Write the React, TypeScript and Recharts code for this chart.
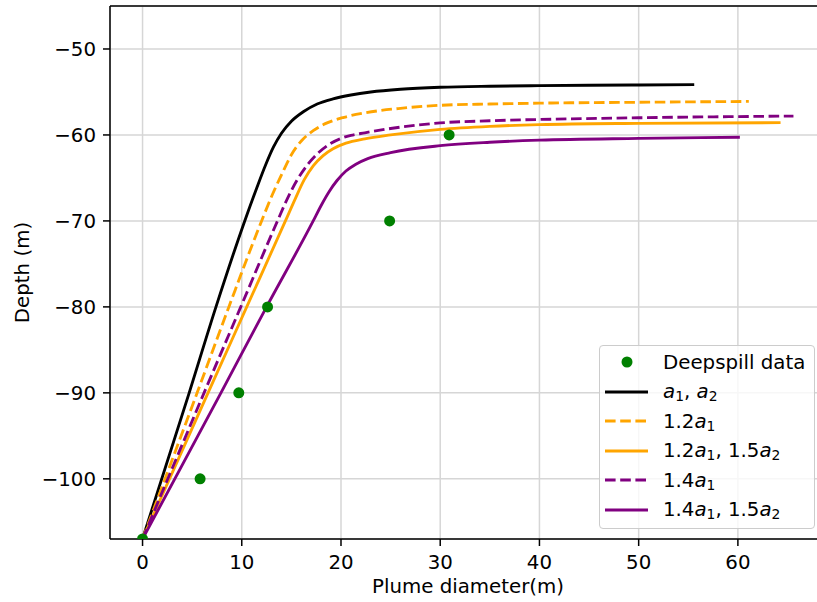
import React from "react";
import {
  ComposedChart,
  Line,
  Scatter,
  XAxis,
  YAxis,
  CartesianGrid,
  ReferenceLine,
  Legend,
  Label,
} from "recharts";

const FONT = '"DejaVu Sans", sans-serif';
const FS = 19.8;

// measured Deepspill points
const SPILL_X = [0, 5.8, 9.7, 12.6, 24.9, 30.9];
const SPILL_Y = [-107, -100, -90, -80, -70, -60];

// a1, a2
const BASE_X = [0, 4.7, 7.4, 10.3, 11.5, 12.4, 13.2, 14.0, 15.0, 16.2, 17.6, 19.2, 21, 23, 26, 30, 35, 40, 45, 50, 55.6];
const BASE_Y = [-107, -90, -80, -70, -66.2, -63.5, -61.4, -59.8, -58.4, -57.3, -56.4, -55.8, -55.35, -55.0, -54.68, -54.45, -54.33, -54.27, -54.22, -54.19, -54.15];

// 1.2 a1
const A12_X = [0, 5.5, 8.7, 12.0, 13.1, 14.1, 15.0, 16.0, 17.2, 18.6, 20.3, 22.3, 26, 30, 35, 40, 50, 61.1];
const A12_Y = [-107, -90, -80, -70, -66.9, -64.4, -62.3, -60.7, -59.5, -58.6, -57.95, -57.45, -56.9, -56.55, -56.4, -56.3, -56.2, -56.1];

// 1.2 a1, 1.5 a2
const A12B_X = [0, 6.6, 10.5, 14.4, 15.4, 16.3, 17.2, 18.2, 19.2, 20.5, 22.4, 25, 30, 35, 40, 50, 64.3];
const A12B_Y = [-107, -90, -80, -70, -67.4, -65.2, -63.6, -62.4, -61.6, -60.95, -60.45, -60.0, -59.35, -59.0, -58.8, -58.65, -58.57];

// 1.4 a1
const A14_X = [0, 6.2, 9.9, 13.6, 14.6, 15.6, 16.6, 17.6, 18.8, 20, 21, 22.4, 25, 30, 35, 40, 50, 65.6];
const A14_Y = [-107, -90, -80, -70, -67.4, -65.2, -63.5, -62.2, -61.1, -60.4, -60.05, -59.75, -59.25, -58.6, -58.35, -58.2, -58.0, -57.8];

// 1.4 a1, 1.5 a2
const A14B_X = [0, 7.9, 12.5, 17.2, 18.0, 18.8, 19.6, 20.5, 21.5, 22.7, 25, 30, 35, 40, 50, 60.2];
const A14B_Y = [-107, -90, -80, -70, -68.2, -66.6, -65.3, -64.2, -63.4, -62.75, -62.05, -61.25, -60.85, -60.6, -60.4, -60.27];

const X_TICKS = [0, 10, 20, 30, 40, 50, 60];
const Y_TICKS = [-100, -90, -80, -70, -60, -50];

const zip = (xs: number[], ys: number[]) => xs.map((x, i) => ({ x, y: ys[i] }));

const A = ({ n }: { n: string }) => (
  <>
    <i>a</i>
    <sub style={{ fontSize: "0.7em", verticalAlign: "-0.25em", lineHeight: 0 }}>{n}</sub>
  </>
);

const DASH = "10.6 4.6";

const SERIES = [
  { key: "base", data: zip(BASE_X, BASE_Y), color: "#000000", dash: undefined, label: <><A n="1" />, <A n="2" /></> },
  { key: "a12", data: zip(A12_X, A12_Y), color: "#ffa500", dash: DASH, label: <>1.2<A n="1" /></> },
  { key: "a12b", data: zip(A12B_X, A12B_Y), color: "#ffa500", dash: undefined, label: <>1.2<A n="1" />, 1.5<A n="2" /></> },
  { key: "a14", data: zip(A14_X, A14_Y), color: "#800080", dash: DASH, label: <>1.4<A n="1" /></> },
  { key: "a14b", data: zip(A14B_X, A14B_Y), color: "#800080", dash: undefined, label: <>1.4<A n="1" />, 1.5<A n="2" /></> },
];

const spillData = zip(SPILL_X, SPILL_Y);

const fmtTick = (v: number) => (v < 0 ? `\u2212${Math.abs(v)}` : `${v}`);

function renderLegend() {
  const row = { display: "flex", alignItems: "center", height: 29.5 } as const;
  return (
    <div
      style={{
        border: "1px solid #cccccc",
        borderRadius: 4,
        background: "rgba(255,255,255,0.8)",
        padding: "1.5px 0 3.5px 0",
        width: 216,
        boxSizing: "border-box",
        fontFamily: FONT,
        fontSize: FS,
        color: "#000",
      }}
    >
      <div style={row}>
        <svg width={63} height={20}>
          <circle cx={27} cy={10} r={5.5} fill="#008000" />
        </svg>
        <span>Deepspill data</span>
      </div>
      {SERIES.map((s) => (
        <div key={s.key} style={row}>
          <svg width={63} height={20}>
            <line x1={5} x2={48} y1={10} y2={10} stroke={s.color} strokeWidth={2.85} strokeDasharray={s.dash} />
          </svg>
          <span style={{ whiteSpace: "nowrap" }}>{s.label}</span>
        </div>
      ))}
    </div>
  );
}

export default function App() {
  return (
    <div
      style={{
        position: "absolute",
        left: 0,
        top: 0,
        width: 817,
        height: 602,
        overflow: "hidden",
        background: "#fff",
        fontFamily: FONT,
      }}
    >
      <ComposedChart width={826} height={602} margin={{ top: 6, right: 0, bottom: 0, left: 0 }}>
        <CartesianGrid stroke="#d6d6d6" strokeWidth={1.5} />
        <XAxis
          dataKey="x"
          type="number"
          domain={[-3.28, 68.88]}
          ticks={X_TICKS}
          allowDataOverflow
          height={63}
          tickSize={7}
          tickMargin={9}
          axisLine={{ stroke: "#000", strokeWidth: 1.5 }}
          tickLine={{ stroke: "#000", strokeWidth: 1.5 }}
          tick={{ fill: "#000", fontSize: FS }}
          tickFormatter={fmtTick}
        >
          <Label value="Plume diameter(m)" position="insideBottom" offset={9} fill="#000" fontSize={FS} />
        </XAxis>
        <YAxis
          dataKey="y"
          type="number"
          domain={[-107, -45]}
          ticks={Y_TICKS}
          allowDataOverflow
          width={110}
          tickSize={7}
          tickMargin={7}
          axisLine={{ stroke: "#000", strokeWidth: 1.5 }}
          tickLine={{ stroke: "#000", strokeWidth: 1.5 }}
          tick={{ fill: "#000", fontSize: FS }}
          tickFormatter={fmtTick}
        >
          <Label
            content={({ viewBox }: any) => {
              const cx = viewBox.x + 22;
              const cy = viewBox.y + viewBox.height / 2;
              return (
                <text
                  x={cx}
                  y={cy}
                  transform={`rotate(-90 ${cx} ${cy})`}
                  textAnchor="middle"
                  dominantBaseline="central"
                  fontSize={FS}
                  fill="#000"
                >
                  Depth (m)
                </text>
              );
            }}
          />
        </YAxis>
        <ReferenceLine y={-45} stroke="#000" strokeWidth={1.5} />
        <Scatter
          data={spillData}
          isAnimationActive={false}
          shape={(p: any) => <circle cx={p.cx} cy={p.cy} r={5.5} fill="#008000" />}
        />
        {SERIES.map((s) => (
          <Line
            key={s.key}
            data={s.data}
            dataKey="y"
            type="monotone"
            stroke={s.color}
            strokeWidth={2.85}
            strokeDasharray={s.dash}
            dot={false}
            activeDot={false}
            isAnimationActive={false}
          />
        ))}
        <Legend
          layout="vertical"
          align="center"
          verticalAlign="middle"
          wrapperStyle={{ left: 599, top: 345, width: 216 }}
          content={renderLegend}
        />
      </ComposedChart>
    </div>
  );
}
